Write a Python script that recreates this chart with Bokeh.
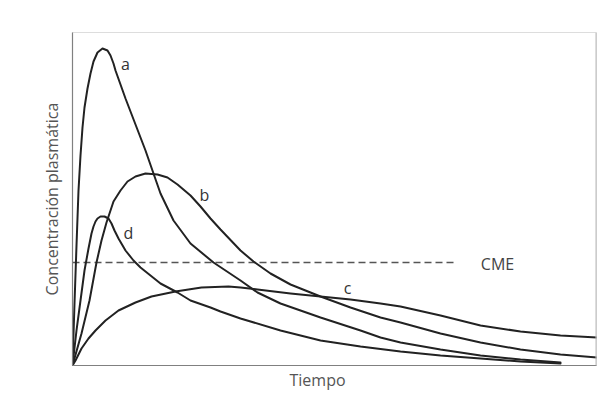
from bokeh.plotting import figure
from bokeh.models import Range1d, Span, Label, ColumnDataSource, Title, FixedTicker
from bokeh.embed import file_html
from bokeh.resources import INLINE
from bokeh.core.properties import value

# Curve data (time units, concentration units)
a_x = [0, 2, 4, 6, 8, 10, 12, 15, 18, 21, 25, 30, 35, 38, 41, 43, 53, 63, 73, 81, 88, 101, 118, 141, 168, 185, 208, 248, 288, 308, 328, 368, 408, 448, 488]
a_y = [0, 62, 120, 175, 210, 238, 258, 277, 292, 304, 313, 317, 315, 310, 302, 295, 267, 241, 215, 192, 172, 145, 122, 103, 85, 73, 62, 48, 35, 28, 23, 16, 10, 6, 3]

b_x = [0, 9, 17, 24, 29, 34, 41, 48, 55, 63, 73, 85, 95, 105, 118, 128, 138, 148, 168, 181, 198, 218, 248, 278, 308, 328, 368, 408, 448, 488, 525]
b_y = [0, 32, 65, 103, 125, 143, 164, 175, 184, 189, 192, 191, 188, 181, 170, 159, 147, 136, 115, 104, 92, 81, 69, 58, 48, 43, 32, 23, 16, 11, 8]

c_x = [0, 3, 9, 16, 23, 33, 46, 63, 79, 103, 129, 156, 168, 185, 218, 248, 278, 308, 328, 368, 408, 448, 488, 525]
c_y = [0, 5, 17, 27, 35, 45, 55, 63, 69, 74, 78, 79, 78, 76, 72, 69, 66, 62, 59, 50, 40, 34, 30, 28]

d_x = [0, 4, 8, 12, 16, 19, 21, 23, 25, 28, 32, 36, 39, 42, 46, 53, 61, 68, 88, 105, 118, 138, 148, 168, 208, 248, 288, 328, 368, 408, 448, 488]
d_y = [0, 35, 65, 95, 117, 132, 139, 144, 147, 149, 149, 147, 142, 135, 127, 115, 105, 98, 82, 73, 65, 58, 54, 47, 35, 25, 19, 14, 10, 7, 4, 2]

cme_level = 103
cme_x = [0, 383]

curve_names = ["a", "b", "c", "d"]
curve_label_x = [53, 132, 275, 56]
curve_label_y = [302, 171, 78, 133]

FONT = "Open Sans"

p = figure(width=598, height=396, output_backend="svg", toolbar_location=None,
           x_range=Range1d(0, 524), y_range=Range1d(0, 333),
           min_border_left=72, min_border_right=2, min_border_top=32, min_border_bottom=31)
p.background_fill_color = "white"
p.border_fill_color = "white"
p.outline_line_color = "#dddddd"
p.outline_line_width = 1
p.xgrid.grid_line_color = None
p.ygrid.grid_line_color = None

for ax in (p.xaxis[0], p.yaxis[0]):
    ax.ticker = FixedTicker(ticks=[])
    ax.major_tick_line_color = None
    ax.minor_tick_line_color = None
    ax.major_tick_out = 0
    ax.major_tick_in = 0
    ax.minor_tick_out = 0
    ax.axis_line_color = "#808080"
    ax.axis_line_width = 1.2

p.yaxis.axis_label = "Concentración plasmática"
p.yaxis.axis_label_text_font = FONT
p.yaxis.axis_label_text_font_size = "16px"
p.yaxis.axis_label_text_font_style = "normal"
p.yaxis.axis_label_text_color = "#555555"
p.yaxis.axis_label_standoff = 10

p.add_layout(Title(text="Tiempo", align="left", offset=217, text_font=FONT,
                   text_font_size="16px", text_font_style="normal", text_color="#555555",
                   standoff=2), "below")

# right border
p.add_layout(Span(location=524, dimension="height", line_color="#bbbbbb", line_width=2))

# CME dashed line
p.line(cme_x, [cme_level, cme_level], line_color="#555555", line_width=1.3, line_dash="7 4")

for xs, ys in ((a_x, a_y), (b_x, b_y), (c_x, c_y), (d_x, d_y)):
    p.line(xs, ys, line_color="#222222", line_width=2, line_join="round", line_cap="round")

src = ColumnDataSource(dict(x=curve_label_x, y=curve_label_y, t=curve_names))
p.text(x="x", y="y", text="t", source=src, text_font=value(FONT), text_font_size="16px",
       text_color="#333333", text_align="center", text_baseline="middle")

p.add_layout(Label(x=425, y=102, text="CME", text_font=FONT, text_font_size="16px",
                   text_color="#444444", text_align="center", text_baseline="middle"))

open("out.html", "w").write(file_html(p, INLINE))
